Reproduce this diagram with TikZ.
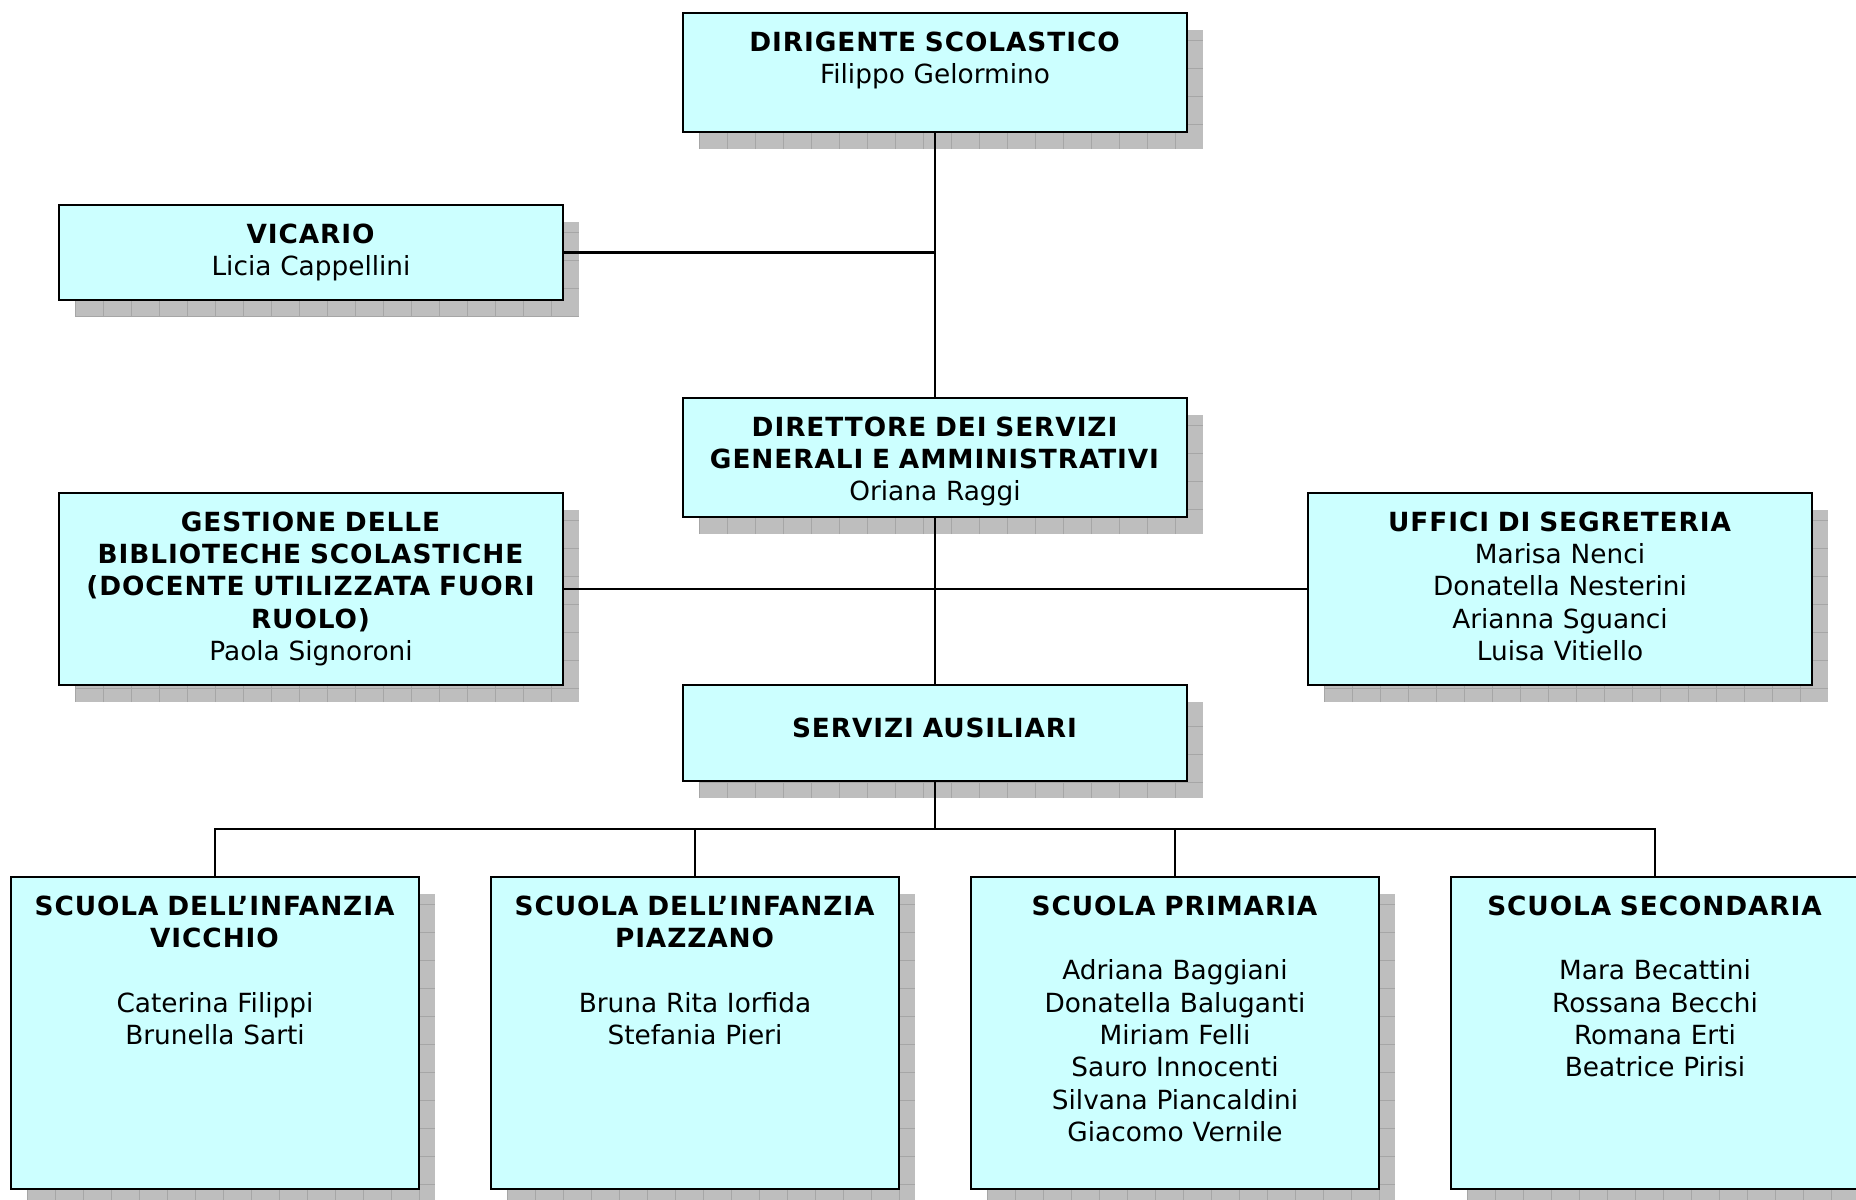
\documentclass[tikz,border=0pt]{standalone}
\usepackage{fontspec}
\setmainfont{DejaVu Sans}[BoldFeatures={LetterSpace=3.5}]
\usepackage{tikz}
\usetikzlibrary{shadows}
\definecolor{boxfill}{HTML}{CCFFFF}
\definecolor{shade}{HTML}{BEBEBE}
\definecolor{shadegrid}{HTML}{A6A6A6}
\tikzset{
  unit/.style={draw=black, fill=boxfill, line width=1.2pt, anchor=north, align=center,
    inner xsep=0pt, inner ysep=0pt, text height=0.76cm, text depth=#1,
    font=\fontsize{15pt}{18.4pt}\selectfont,
    general shadow={shadow xshift=0.32cm, shadow yshift=-0.34cm, fill=shade,
      path picture={\draw[shadegrid, line width=0.5pt]
        (path picture bounding box.south west) grid[step=0.56cm]
        (path picture bounding box.north east);}}},
  wide/.style={unit=#1, text width=10.08cm},
  narrow/.style={unit=#1, text width=8.16cm},
  link/.style={draw=black, line width=1.2pt},
}

\begin{document}
\begin{tikzpicture}[x=0.02cm, y=-0.02cm]
  \useasboundingbox (0,0) rectangle (1856,1200);
  \coordinate (bus) at (935,829);

  % top of the chart
  \node[wide=1.62cm] (dirigente) at (935,12) {\textbf{DIRIGENTE SCOLASTICO}\\Filippo Gelormino};
  \node[wide=1.14cm] (vicario) at (311,204) {\textbf{VICARIO}\\Licia Cappellini};
  \node[wide=1.62cm] (direttore) at (935,397)
    {\textbf{DIRETTORE DEI SERVIZI}\\\textbf{GENERALI E AMMINISTRATIVI}\\Oriana Raggi};
  \node[wide=3.08cm] (gestione) at (311,492)
    {\textbf{GESTIONE DELLE}\\\textbf{BIBLIOTECHE SCOLASTICHE}\\\textbf{(DOCENTE UTILIZZATA FUORI}\\\textbf{RUOLO)}\\Paola Signoroni};
  \node[wide=3.08cm] (uffici) at (1560,492)
    {\textbf{UFFICI DI SEGRETERIA}\\Marisa Nenci\\Donatella Nesterini\\Arianna Sguanci\\Luisa Vitiello};
  \node[wide=0.88cm, text height=1.04cm] (servizi) at (935,684) {\textbf{SERVIZI AUSILIARI}};

  % schools
  \node[narrow=5.48cm] (vicchio) at (215,876)
    {\textbf{SCUOLA DELL’INFANZIA}\\\textbf{VICCHIO}\\[\baselineskip]Caterina Filippi\\Brunella Sarti};
  \node[narrow=5.48cm] (piazzano) at (695,876)
    {\textbf{SCUOLA DELL’INFANZIA}\\\textbf{PIAZZANO}\\[\baselineskip]Bruna Rita Iorfida\\Stefania Pieri};
  \node[narrow=5.48cm] (primaria) at (1175,876)
    {\textbf{SCUOLA PRIMARIA}\\[\baselineskip]Adriana Baggiani\\Donatella Baluganti\\Miriam Felli\\Sauro Innocenti\\Silvana Piancaldini\\Giacomo Vernile};
  \node[narrow=5.48cm] (secondaria) at (1655,876)
    {\textbf{SCUOLA SECONDARIA}\\[\baselineskip]Mara Becattini\\Rossana Becchi\\Romana Erti\\Beatrice Pirisi};

  % links
  \draw[link] (dirigente.south) -- (direttore.north);
  \draw[link] (vicario.east) -- (vicario.east -| dirigente.south);
  \draw[link] (gestione.east) -- (uffici.west);
  \draw[link] (direttore.south) -- (servizi.north);
  \draw[link] (servizi.south) -- (bus);
  \draw[link] (vicchio.north) -- (vicchio.north |- bus) -- (secondaria.north |- bus) -- (secondaria.north);
  \foreach \n in {piazzano,primaria}
    \draw[link] (\n.north) -- (\n.north |- bus);
\end{tikzpicture}
\end{document}
